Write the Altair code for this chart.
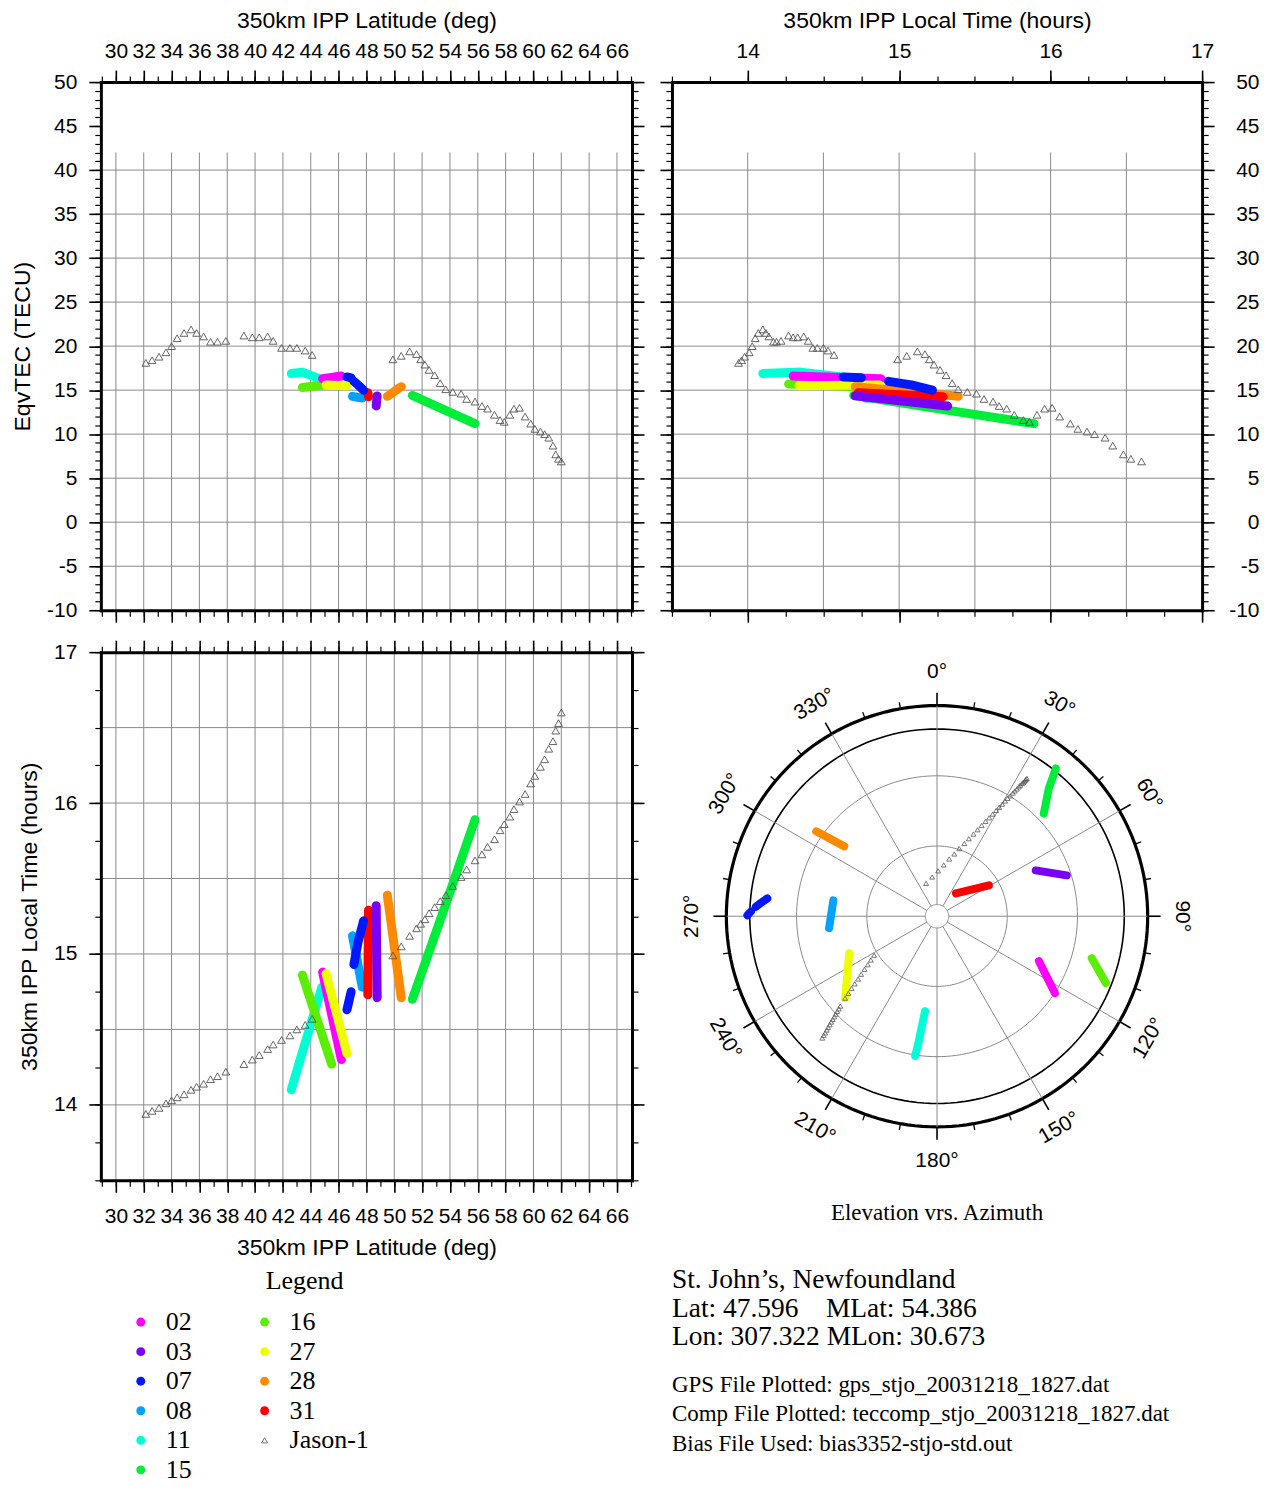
import altair as alt
import pandas as pd

SANS = "Liberation Sans"
SERIF = "Liberation Serif"
GRID_COLOR = "#8a8a8a"
TRI_COLOR = "#555555"

# ---------------- data ----------------
PRN_LIST = ["02", "03", "07", "08", "11", "15", "16", "27", "28", "31"]
PRN_COLORS = ["#ff00ff", "#7a00f5", "#0018ff", "#00a2ff", "#00ffd5",
              "#00ee3a", "#5cee00", "#eeff00", "#ff8a00", "#ff0000"]
# drawing order of the tracks (first = bottom)
Z_ORDER = ["15", "11", "16", "02", "27", "08", "28", "31", "03", "07"]

SAT_PRN = ["02", "02", "03", "03", "07", "07", "07", "07", "07", "08", "08", "11", "11", "11",
           "15", "15", "15", "16", "16", "27", "27", "28", "28", "31", "31"]
SAT_SEG = ["a", "a", "a", "a", "a", "a", "b", "b", "b", "a", "a", "a", "a", "a",
           "a", "a", "a", "a", "a", "a", "a", "a", "a", "a", "a"]
SAT_LAT = [46.2, 44.85, 48.77, 48.70, 46.6, 46.9, 47.1, 47.4, 47.8, 47.7, 47.0, 42.6, 43.4, 44.8,
           51.3, 53.4, 55.8, 45.5, 43.4, 46.6, 45.1, 50.5, 49.5, 48.1, 48.15]
SAT_LT = [14.30, 14.88, 14.71, 15.32, 14.63, 14.75, 14.93, 15.08, 15.22, 14.78, 15.12, 14.10, 14.35, 14.78,
          14.70, 15.25, 15.89, 14.27, 14.86, 14.34, 14.87, 14.71, 15.39, 14.73, 15.29]
SAT_TEC = [16.6, 16.3, 14.35, 13.2, 16.5, 16.4, 16.0, 15.6, 15.0, 14.1, 14.3, 16.9, 17.05, 16.2,
           14.4, 12.9, 11.2, 15.7, 15.3, 15.5, 15.6, 15.4, 14.3, 14.7, 14.25]
SAT_AZ = [113.8, 123.1, 65.1, 72.5, 270.3, 271.5, 273.0, 274.5, 276.0, 263.7, 278.7, 188.9, 188.3, 187.2,
          46.1, 41.2, 38.8, 105.2, 111.6, 247.2, 228.3, 305.1, 307.0, 59.2, 39.6]
SAT_EL = [42.4, 29.9, 43.5, 31.9, 9.0, 10.5, 12.5, 14.8, 17.1, 43.6, 45.2, 29.6, 36.0, 49.1,
          26.7, 17.5, 9.0, 21.5, 12.4, 49.3, 37.4, 26.9, 40.4, 64.2, 77.3]

JASON_LAT = [32.15, 32.6, 33.1, 33.6, 34.0, 34.4, 34.9, 35.4, 35.8, 36.3, 36.8, 37.3, 37.9,
             39.2, 39.8, 40.3, 40.9, 41.3, 41.9, 42.5, 43.0, 43.6, 44.1,
             49.9, 50.5, 51.1, 51.6, 51.9, 52.2, 52.5, 52.9, 53.3, 53.7, 54.2, 54.8, 55.2, 55.8, 56.3, 56.7,
             57.2, 57.6, 57.9, 58.3, 58.6, 59.0, 59.4, 59.8, 60.1, 60.5, 60.8, 61.1, 61.4, 61.6, 61.8, 62.0]
JASON_LT = [13.94, 13.96, 13.98, 14.01, 14.03, 14.05, 14.07, 14.10, 14.12, 14.14, 14.17, 14.19, 14.22,
            14.27, 14.30, 14.33, 14.37, 14.40, 14.43, 14.46, 14.50, 14.53, 14.57,
            14.99, 15.05, 15.12, 15.17, 15.20, 15.23, 15.27, 15.31, 15.35, 15.39, 15.45, 15.51, 15.56, 15.62,
            15.66, 15.71, 15.76, 15.82, 15.86, 15.91, 15.96, 16.01, 16.06, 16.13, 16.18, 16.24, 16.29, 16.36,
            16.41, 16.48, 16.53, 16.60]
JASON_TEC = [18.1, 18.4, 18.8, 19.3, 20.0, 20.9, 21.5, 21.9, 21.5, 21.1, 20.5, 20.5, 20.6,
             21.2, 21.0, 21.0, 21.1, 20.6, 19.8, 19.8, 19.8, 19.5, 19.0,
             18.5, 18.9, 19.4, 19.1, 18.5, 17.9, 17.3, 16.7, 15.8, 15.1, 14.8, 14.6, 14.0, 13.7, 13.2, 12.9,
             12.2, 11.6, 11.4, 12.2, 12.9, 13.0, 12.0, 11.2, 10.6, 10.3, 10.0, 9.6, 8.7, 7.7, 7.2, 6.9]
JASON_AZ = [223.3, 223.6, 223.8, 224.1, 224.4, 224.7, 225.0, 225.3, 225.6, 226.0, 226.4, 226.7, 227.1,
            228.3, 229.0, 229.8, 230.6, 231.5, 232.6, 233.8, 235.0, 236.5, 238.2,
            341.6, 352.9, 1.4, 7.4, 12.0, 15.5, 18.2, 20.6, 22.3, 23.9, 25.1, 26.2, 27.1, 27.9, 28.6, 29.2,
            29.7, 30.2, 30.6, 30.9, 31.3, 31.6, 31.8, 32.1, 32.3, 32.4, 32.6, 32.8, 32.9, 33.0, 33.0, 33.1]
JASON_EL = [18.5, 19.8, 21.0, 22.3, 23.5, 24.8, 26.1, 27.3, 28.6, 29.8, 31.1, 32.3, 33.6,
            37.4, 39.8, 42.2, 44.5, 46.9, 49.2, 51.6, 53.9, 56.1, 58.4,
            75.2, 73.1, 70.6, 67.9, 65.0, 62.4, 59.6, 56.8, 54.2, 51.6, 49.2, 46.8, 44.5, 42.4, 40.3, 38.2,
            36.4, 34.6, 32.8, 31.3, 29.8, 28.2, 27.0, 25.8, 24.6, 23.7, 22.7, 22.1, 21.3, 20.7, 20.2, 19.7]

# axes / grids
LAT_DOMAIN = [28.92, 67.08]
TEC_DOMAIN = [-10, 50]
LT_DOMAIN = [13.5, 17.0]
LAT_TICKS = [30, 32, 34, 36, 38, 40, 42, 44, 46, 48, 50, 52, 54, 56, 58, 60, 62, 64, 66]
LAT_MINOR = list(range(29, 68))
TEC_TICKS = [-10, -5, 0, 5, 10, 15, 20, 25, 30, 35, 40, 45, 50]
TEC_MINOR = list(range(-10, 51))
LT_TICKS = [14, 15, 16, 17]
LT_MINOR = [13.5, 13.75, 14.0, 14.25, 14.5, 14.75, 15.0, 15.25, 15.5, 15.75, 16.0, 16.25, 16.5, 16.75, 17.0]
LAT_GRID = LAT_TICKS
TEC_GRID = [-5, 0, 5, 10, 15, 20, 25, 30, 35, 40]
LT_GRID = [14.0, 14.5, 15.0, 15.5, 16.0, 16.5]
TEC_GRID_TOP = 42

RING_EL = [0, 10, 30, 60, 85]
SPOKE_AZ = [0, 30, 60, 90, 120, 150, 180, 210, 240, 270, 300, 330]
SPOKE_LABELS = ["0°", "30°", "60°", "90°", "120°", "150°", "180°", "210°", "240°", "270°", "300°", "330°"]
SPOKE_ROT = [0, 30, 60, 90, 300, 330, 0, 30, 60, 270, 300, 330]
MINOR_AZ = [10, 20, 40, 50, 70, 80, 100, 110, 130, 140, 160, 170, 190, 200, 220, 230, 250, 260,
            280, 290, 310, 320, 340, 350]

LEGEND_LABELS = ["02", "03", "07", "08", "11", "15", "16", "27", "28", "31", "Jason-1"]
LEGEND_COL = [0, 0, 0, 0, 0, 0, 1, 1, 1, 1, 1]
LEGEND_ROW = [0, 1, 2, 3, 4, 5, 0, 1, 2, 3, 4]

INFO_LINES = ["St. John\u2019s, Newfoundland",
              "Lat: 47.596\u00a0\u00a0\u00a0\u00a0MLat: 54.386",
              "Lon: 307.322 MLon: 30.673",
              "GPS File Plotted: gps_stjo_20031218_1827.dat",
              "Comp File Plotted: teccomp_stjo_20031218_1827.dat",
              "Bias File Used: bias3352-stjo-std.out"]
INFO_ROW = [0, 1, 2, 3.68, 4.7, 5.75]
INFO_SIZE = [27.5, 27.5, 27.5, 23, 23, 23]

# ---------------- tables ----------------
sats = pd.DataFrame({"prn": SAT_PRN, "seg": SAT_SEG, "lat": SAT_LAT, "lt": SAT_LT,
                     "tec": SAT_TEC, "az": SAT_AZ, "el": SAT_EL})
sats["z"] = sats["prn"].map({p: i for i, p in enumerate(Z_ORDER)})
sats = sats.sort_values("z", kind="stable").reset_index(drop=True)
sats["idx"] = range(len(sats))
sats["key"] = sats["z"].astype(str).str.zfill(2) + sats["prn"] + sats["seg"]
jason = pd.DataFrame({"lat": JASON_LAT, "lt": JASON_LT, "tec": JASON_TEC, "az": JASON_AZ, "el": JASON_EL})

color_scale = alt.Scale(domain=PRN_LIST, range=PRN_COLORS)

W_L, W_R, H, H_B = 532, 531, 529, 250


def make_axis(orient, values, major=True, labels=False, label_pad=10, label_align=None,
              title_pad=10, domain=True):
    kw = dict(orient=orient, values=list(values), ticks=True, tickSize=12 if major else 6,
              tickColor="black", tickWidth=1.6 if major else 1.2, grid=False, domain=domain,
              domainColor="black", domainWidth=3, domainCap="square", labels=labels,
              labelFont=SANS, labelFontSize=21, labelColor="black", labelFlush=False,
              labelOverlap=False, labelBound=False, labelPadding=label_pad,
              titleFont=SANS, titleFontSize=23, titleFontWeight="normal", titleColor="black",
              titlePadding=title_pad, zindex=1)
    if labels:
        kw["labelExpr"] = "'' + datum.value"
    if label_align:
        kw["labelAlign"] = label_align
    return alt.Axis(**kw)


def rect_panel(xf, yf, xdom, ydom, w, h, vgrid, hgrid, vtop, axes_spec):
    xs = alt.Scale(domain=xdom, nice=False, zero=False)
    ys = alt.Scale(domain=ydom, nice=False, zero=False)
    layers = []
    vg = pd.DataFrame({"g": vgrid})
    if vtop is None:
        layers.append(alt.Chart(vg).mark_rule(color=GRID_COLOR, strokeWidth=1).encode(
            x=alt.X("g:Q", scale=xs, axis=None)))
    else:
        vg["lo"] = ydom[0]
        vg["hi"] = vtop
        layers.append(alt.Chart(vg).mark_rule(color=GRID_COLOR, strokeWidth=1).encode(
            x=alt.X("g:Q", scale=xs, axis=None),
            y=alt.Y("lo:Q", scale=ys, axis=None), y2="hi:Q"))
    hg = pd.DataFrame({"g": hgrid})
    layers.append(alt.Chart(hg).mark_rule(color=GRID_COLOR, strokeWidth=1).encode(
        y=alt.Y("g:Q", scale=ys, axis=None)))
    layers.append(alt.Chart(sats).mark_line(strokeWidth=9, strokeCap="round", strokeJoin="round").encode(
        x=alt.X(f"{xf}:Q", scale=xs, axis=None),
        y=alt.Y(f"{yf}:Q", scale=ys, axis=None),
        color=alt.Color("prn:N", scale=color_scale, legend=None),
        detail="key:N", order="idx:Q"))
    layers.append(alt.Chart(jason).mark_point(shape="triangle-up", size=60, filled=False, color=TRI_COLOR,
                                              strokeWidth=0.9, opacity=1).encode(
        x=alt.X(f"{xf}:Q", scale=xs, axis=None), y=alt.Y(f"{yf}:Q", scale=ys, axis=None)))
    for xa, xt, ya, yt in axes_spec:
        layers.append(alt.Chart(jason).mark_point(opacity=0).encode(
            x=alt.X(f"{xf}:Q", scale=xs, axis=xa, title=xt),
            y=alt.Y(f"{yf}:Q", scale=ys, axis=ya, title=yt)))
    return alt.layer(*layers).resolve_axis(x="independent", y="independent").properties(width=w, height=h)


# top-left: TEC vs latitude
tl = rect_panel("lat", "tec", LAT_DOMAIN, TEC_DOMAIN, W_L, H, LAT_GRID, TEC_GRID, TEC_GRID_TOP, [
    (make_axis("top", LAT_TICKS, labels=True, label_pad=9, title_pad=8), "350km IPP Latitude (deg)",
     make_axis("left", TEC_TICKS, labels=True, label_pad=12, title_pad=12), "EqvTEC (TECU)"),
    (make_axis("bottom", LAT_TICKS), None, make_axis("right", TEC_TICKS), None),
    (make_axis("top", LAT_MINOR, major=False, domain=False), None,
     make_axis("left", TEC_MINOR, major=False, domain=False), None),
    (make_axis("bottom", LAT_MINOR, major=False, domain=False), None,
     make_axis("right", TEC_MINOR, major=False, domain=False), None),
])

# top-right: TEC vs local time
tr = rect_panel("lt", "tec", LT_DOMAIN, TEC_DOMAIN, W_R, H, LT_GRID, TEC_GRID, TEC_GRID_TOP, [
    (make_axis("top", LT_TICKS, labels=True, label_pad=9, title_pad=8), "350km IPP Local Time (hours)",
     make_axis("right", TEC_TICKS, labels=True, label_pad=45, label_align="right"), None),
    (make_axis("bottom", LT_TICKS), None, make_axis("left", TEC_TICKS), None),
    (make_axis("top", LT_MINOR, major=False, domain=False), None,
     make_axis("right", TEC_MINOR, major=False, domain=False), None),
    (make_axis("bottom", LT_MINOR, major=False, domain=False), None,
     make_axis("left", TEC_MINOR, major=False, domain=False), None),
])

# bottom-left: local time vs latitude
bl = rect_panel("lat", "lt", LAT_DOMAIN, LT_DOMAIN, W_L, H, LAT_GRID, LT_GRID, None, [
    (make_axis("bottom", LAT_TICKS, labels=True, label_pad=13, title_pad=10), "350km IPP Latitude (deg)",
     make_axis("left", LT_TICKS, labels=True, label_pad=12, title_pad=12), "350km IPP Local Time (hours)"),
    (make_axis("top", LAT_TICKS), None, make_axis("right", LT_TICKS), None),
    (make_axis("bottom", LAT_MINOR, major=False, domain=False), None,
     make_axis("left", LT_MINOR, major=False, domain=False), None),
    (make_axis("top", LAT_MINOR, major=False, domain=False), None,
     make_axis("right", LT_MINOR, major=False, domain=False), None),
])

# bottom-right: polar elevation vs azimuth
PX_PER_UNIT = 211.0
pxs = alt.Scale(domain=[-W_R / 2 / PX_PER_UNIT, W_R / 2 / PX_PER_UNIT], nice=False, zero=False)
pys = alt.Scale(domain=[-H / 2 / PX_PER_UNIT, H / 2 / PX_PER_UNIT], nice=False, zero=False)


def pxy(el, az):
    r = f"((90-({el}))/90)"
    return f"{r}*sin(({az})*PI/180)", f"{r}*cos(({az})*PI/180)"


PX = alt.X("px:Q", scale=pxs, axis=None)
PY = alt.Y("py:Q", scale=pys, axis=None)

polar_layers = []
ring_style = {0: ("black", 3.2), 10: ("black", 1.6), 30: (GRID_COLOR, 1), 60: (GRID_COLOR, 1), 85: (GRID_COLOR, 1)}
for el in RING_EL:
    col, sw = ring_style[el]
    xe, ye = pxy("datum.el", "datum.a")
    polar_layers.append(
        alt.Chart(alt.sequence(0, 362, 2, as_="a"))
        .transform_calculate(el=str(el))
        .transform_calculate(px=xe, py=ye)
        .mark_line(color=col, strokeWidth=sw)
        .encode(x=PX, y=PY, order="a:Q"))

spokes = pd.DataFrame({"az": SPOKE_AZ, "lab": SPOKE_LABELS, "rot": SPOKE_ROT})
x1, y1 = pxy("85", "datum.az")
x2, y2 = pxy("0", "datum.az")
polar_layers.append(alt.Chart(spokes).transform_calculate(px=x1, py=y1, qx=x2, qy=y2)
                    .mark_rule(color=GRID_COLOR, strokeWidth=1)
                    .encode(x=PX, y=PY, x2="qx:Q", y2="qy:Q"))
x3, y3 = pxy("-5.5", "datum.az")
polar_layers.append(alt.Chart(spokes).transform_calculate(px=x2, py=y2, qx=x3, qy=y3)
                    .mark_rule(color="black", strokeWidth=1.6)
                    .encode(x=PX, y=PY, x2="qx:Q", y2="qy:Q"))
minor = pd.DataFrame({"az": MINOR_AZ})
x4, y4 = pxy("-2.8", "datum.az")
polar_layers.append(alt.Chart(minor).transform_calculate(px=x2, py=y2, qx=x4, qy=y4)
                    .mark_rule(color="black", strokeWidth=1.3)
                    .encode(x=PX, y=PY, x2="qx:Q", y2="qy:Q"))
x5, y5 = pxy("-14.5", "datum.az")
polar_layers.append(alt.Chart(spokes).transform_calculate(px=x5, py=y5)
                    .mark_text(font=SANS, fontSize=21, align="center", baseline="middle", color="black")
                    .encode(x=PX, y=PY, text="lab:N", angle=alt.Angle("rot:Q", scale=None)))
xs_, ys_ = pxy("datum.el", "datum.az")
polar_layers.append(alt.Chart(sats).transform_calculate(px=xs_, py=ys_)
                    .mark_line(strokeWidth=8, strokeCap="round", strokeJoin="round")
                    .encode(x=PX, y=PY, color=alt.Color("prn:N", scale=color_scale, legend=None),
                            detail="key:N", order="idx:Q"))
polar_layers.append(alt.Chart(jason).transform_calculate(px=xs_, py=ys_)
                    .mark_point(shape="triangle-up", size=24, filled=False, color=TRI_COLOR,
                                strokeWidth=0.8, opacity=1)
                    .encode(x=PX, y=PY))
polar = alt.layer(*polar_layers).properties(
    width=W_R, height=H,
    title=alt.TitleParams("Elevation vrs. Azimuth", orient="bottom", font=SERIF, fontSize=23,
                          fontWeight="normal", color="black", offset=22))

# legend panel
leg = pd.DataFrame({"label": LEGEND_LABELS, "col": LEGEND_COL, "row": LEGEND_ROW})
lxs = alt.Scale(domain=[-40 / 124, (W_L - 40) / 124], nice=False, zero=False)
lys = alt.Scale(domain=[-100 / 29.6, (H_B - 100) / 29.6], nice=False, zero=False, reverse=True)
LX = alt.X("col:Q", scale=lxs, axis=None)
LY = alt.Y("row:Q", scale=lys, axis=None)
legend = alt.layer(
    alt.Chart(leg).transform_filter("datum.label != 'Jason-1'").mark_circle(size=80, opacity=1).encode(
        x=LX, y=LY, color=alt.Color("label:N", scale=color_scale, legend=None)),
    alt.Chart(leg).transform_filter("datum.label == 'Jason-1'").mark_point(
        shape="triangle-up", size=36, filled=False, color="#777777", strokeWidth=1, opacity=1).encode(x=LX, y=LY),
    alt.Chart(leg).mark_text(align="left", baseline="middle", dx=25, font=SERIF, fontSize=26, color="black").encode(
        x=LX, y=LY, text="label:N"),
).properties(width=W_L, height=H_B,
             title=alt.TitleParams("Legend", font=SERIF, fontSize=26, fontWeight="normal", color="black",
                                   anchor="middle", baseline="middle", dx=-62, offset=-85))

# info panel
info = pd.DataFrame({"line": INFO_LINES, "row": INFO_ROW, "fs": INFO_SIZE, "col": [0] * len(INFO_LINES)})
ixs = alt.Scale(domain=[0, 1], nice=False, zero=False)
iys = alt.Scale(domain=[-58 / 28.5, (H_B - 58) / 28.5], nice=False, zero=False, reverse=True)
info_chart = alt.Chart(info).mark_text(align="left", baseline="middle", font=SERIF, color="black").encode(
    x=alt.X("col:Q", scale=ixs, axis=None), y=alt.Y("row:Q", scale=iys, axis=None),
    text="line:N", size=alt.Size("fs:Q", scale=None)).properties(width=W_R, height=H_B)

chart = alt.concat(tl, tr, bl, polar, legend, info_chart, columns=2,
                   spacing={"row": 42, "column": 40}, bounds="flush").properties(
    padding={"left": 3, "top": 0, "right": 5, "bottom": 5}
).configure_view(strokeWidth=0)

chart.save("out.html", embed_options={"renderer": "svg", "actions": False})
